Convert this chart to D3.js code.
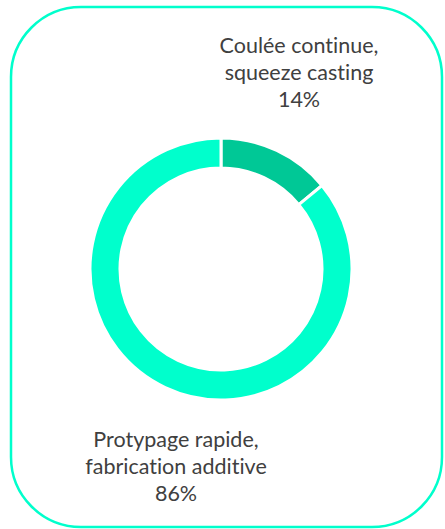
<!DOCTYPE html>
<html>
<head>
<meta charset="utf-8">
<script src="https://cdn.jsdelivr.net/npm/d3@7"></script>
<style>
  html, body { margin: 0; padding: 0; background: #fff; }
</style>
</head>
<body>
<div id="chart"></div>
<script>
(function(){

  var width = 445, height = 529;

  var categories = ["Coulée continue, squeeze casting", "Protypage rapide, fabrication additive"];
  var labelLines = [["Coulée continue,", "squeeze casting"], ["Protypage rapide,", "fabrication additive"]];
  var values = [14, 86];
  var colors = ["#00c896", "#00ffcc"];

  var svg = d3.select("#chart").append("svg")
      .attr("width", width)
      .attr("height", height);

  // rounded frame
  svg.append("rect")
      .attr("x", 11)
      .attr("y", 7)
      .attr("width", 431)
      .attr("height", 520)
      .attr("rx", 70)
      .attr("ry", 70)
      .attr("fill", "none")
      .attr("stroke", "#00ffcc")
      .attr("stroke-width", 2.5);

  var cx = 221, cy = 269, outerR = 131, innerR = 101;

  var pie = d3.pie().sort(null).value(function(d){ return d; });
  var arc = d3.arc().innerRadius(innerR).outerRadius(outerR);

  var g = svg.append("g").attr("transform", "translate(" + cx + "," + cy + ")");

  g.selectAll("path")
      .data(pie(values))
    .enter().append("path")
      .attr("d", arc)
      .attr("fill", function(d, i){ return colors[i]; })
      .attr("stroke", "#fff")
      .attr("stroke-width", 3);

  var labelPos = [[299, 53], [176, 447]];

  labelLines.forEach(function(lines, i){
    var t = svg.append("text")
        .attr("x", labelPos[i][0])
        .attr("y", labelPos[i][1])
        .attr("text-anchor", "middle")
        .attr("fill", "#404040")
        .style("font-family", "Lato, 'Open Sans', sans-serif")
        .style("font-size", "21.5px")
        .style("font-variant-ligatures", "none");
    lines.concat([values[i] + "%"]).forEach(function(s, j){
      t.append("tspan")
          .attr("x", labelPos[i][0])
          .attr("dy", j === 0 ? 0 : 27)
          .text(s);
    });
  });

})();
</script>
</body>
</html>
